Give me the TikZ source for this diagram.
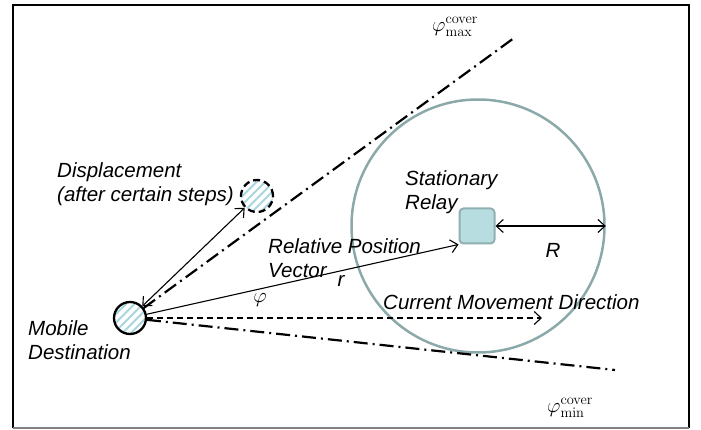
\documentclass[tikz,border=0pt]{standalone}
\usepackage[no-math]{fontspec}
\newfontfamily\arialfont{Liberation Sans}
\usetikzlibrary{arrows.meta,patterns.meta}
\definecolor{relayfill}{HTML}{B7DDE1}
\definecolor{relayline}{HTML}{8FAFB0}
\definecolor{coverline}{HTML}{8CA9AA}
\definecolor{hatch}{HTML}{A8D5DD}
\tikzset{
  lbl/.style={font=\arialfont\itshape\fontsize{20.5}{24}\selectfont,align=left,inner sep=0pt},
  user/.style={circle,draw,line width=2.3pt,minimum size=32pt,inner sep=0pt,
    pattern={Lines[angle=45,distance=6pt,line width=2pt]},pattern color=hatch},
  ang/.style={font=\huge,inner sep=0pt},
  cone/.style={line width=2.2pt,dash pattern=on 14pt off 5pt on 2pt off 5pt},
  vecarrow/.style={line width=1.1pt,-{Straight Barb[length=7pt,width=13pt]}},
  twoarrow/.style={line width=1.1pt,{Straight Barb[length=7pt,width=13pt]}-{Straight Barb[length=7pt,width=13pt]}}
}
\begin{document}
\begin{tikzpicture}[x=1pt,y=-1pt]
\useasboundingbox (0,0) rectangle (701,430);
\draw[line width=1.5pt] (13,428) -- (13,5) -- (689,5) -- (689,428);
\draw[line width=1.5pt,gray] (13,428) -- (689,428);

\node[user] (mob) at (130,318) {};
\node[user,dash pattern=on 7pt off 4pt] (disp) at (257,196) {};
\node[draw=relayline,fill=relayfill,line width=2pt,rounded corners=4pt,minimum size=35pt,inner sep=0pt] (relay) at (477,226) {};
\node[circle,draw=coverline,line width=2.5pt,minimum size=253pt,inner sep=0pt] (cover) at (478,226) {};

\coordinate (maxend) at (514,38);
\coordinate (minend) at (615,370);
\coordinate (dirend) at (542,318);

\path[draw,cone] (mob) -- (maxend);
\path[draw,cone] (mob) -- (minend);
\path[draw,vecarrow,dash pattern=on 6pt off 4pt] (mob.east) -- (dirend);
\path[draw,vecarrow] (mob) -- (relay.south west);
\path[draw,twoarrow] (mob) -- (disp);
\path[draw,twoarrow] (relay.east) -- (cover.east);

\node[lbl,anchor=west] (displbl) at (57,184) {Displacement\\(after certain steps)};
\node[lbl,anchor=west] (moblbl) at (28,340) {Mobile\\Destination};
\node[lbl,anchor=west] (relaylbl) at (405,192) {Stationary\\Relay};
\node[lbl,anchor=west] (veclbl) at (268,258) {Relative Position\\Vector};
\node[lbl,anchor=west] (dirlbl) at (383,302) {Current Movement Direction};
\node[lbl] (rlbl) at (553,250) {R};
\node[lbl] (smallr) at (341,281) {r};
\node[lbl] (philbl) at (260,300) {$\varphi$};
\node[ang] (maxlbl) at (455,27) {$\varphi^{\mathrm{cover}}_{\max}$};
\node[ang] (minlbl) at (570,408) {$\varphi^{\mathrm{cover}}_{\min}$};
\end{tikzpicture}
\end{document}
